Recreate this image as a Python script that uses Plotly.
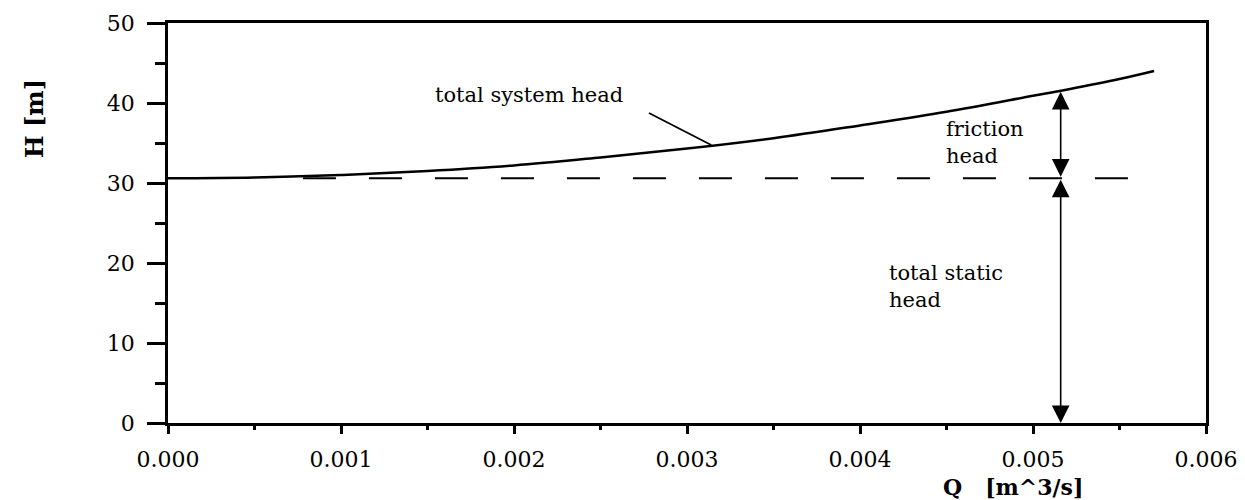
import plotly.graph_objects as go

# ---- data ----
q_system = [0.0, 0.0005, 0.001, 0.0015, 0.002, 0.0025, 0.003, 0.0035, 0.004, 0.0045, 0.005, 0.0052, 0.0055, 0.0057]
h_system = [30.6, 30.7, 31.0, 31.5, 32.2, 33.2, 34.3, 35.6, 37.2, 38.9, 40.9, 41.7, 43.0, 44.0]

q_static = [0.00078, 0.00566]
h_static = [30.6, 30.6]

q_arrow = 0.00516
h_friction_top = 41.4
h_static_level = 30.6
h_zero = 0.0

x_tick_vals = [0.0, 0.001, 0.002, 0.003, 0.004, 0.005, 0.006]
x_tick_text = ["0.000", "0.001", "0.002", "0.003", "0.004", "0.005", "0.006"]
y_tick_vals = [0, 10, 20, 30, 40, 50]
y_tick_text = ["0", "10", "20", "30", "40", "50"]

FONT = "DejaVu Serif"

fig = go.Figure()

fig.add_trace(go.Scatter(
    x=q_system, y=h_system, mode="lines",
    line=dict(color="black", width=2.5, shape="spline", smoothing=1.0),
    showlegend=False, hoverinfo="skip"))

fig.add_trace(go.Scatter(
    x=q_static, y=h_static, mode="lines",
    line=dict(color="black", width=2, dash="33px,33px"),
    showlegend=False, hoverinfo="skip"))

arrow_common = dict(
    xref="x", yref="y", axref="x", ayref="y", text="",
    showarrow=True, arrowside="end+start", arrowhead=2, startarrowhead=2,
    arrowsize=2.2, startarrowsize=2.2, arrowwidth=1.6, arrowcolor="black",
    standoff=0, startstandoff=0)

# friction head arrow
fig.add_annotation(x=q_arrow, y=h_friction_top, ax=q_arrow, ay=h_static_level, **arrow_common)
# total static head arrow
fig.add_annotation(x=q_arrow, y=h_zero, ax=q_arrow, ay=h_static_level, **arrow_common)

# leader line for "total system head"
fig.add_shape(type="line", xref="x", yref="y",
              x0=0.00278, y0=38.75, x1=0.00314, y1=34.75,
              line=dict(color="black", width=1.8))

lab_font = dict(family=FONT, size=21, color="black")
labels = [
    ("total system head", 0.001534, 41.0),
    ("friction<br>head", 0.004488, 35.1),
    ("total static<br>head", 0.004157, 17.1),
]
for txt, lx, ly in labels:
    fig.add_annotation(x=lx, y=ly, xref="x", yref="y", text=txt, align="left",
                       showarrow=False, xanchor="left", yanchor="middle", font=lab_font)

# axis titles
fig.add_annotation(x=-0.129, y=38.0, xref="paper", yref="y", text="<b>H [m]</b>",
                   textangle=-90, showarrow=False, xanchor="center", yanchor="middle",
                   font=dict(family=FONT, size=24, color="black"))
fig.add_annotation(x=0.00447, y=-0.16, xref="x", yref="paper", text="<b>Q   [m^3/s]</b>",
                   showarrow=False, xanchor="left", yanchor="middle",
                   font=dict(family=FONT, size=22, color="black"))

fig.update_xaxes(
    range=[0, 0.006], tickvals=x_tick_vals, ticktext=x_tick_text,
    ticks="outside", ticklen=8, tickwidth=2.5, tickcolor="black",
    minor=dict(dtick=0.0005, ticks="outside", ticklen=4, tickwidth=2.5, tickcolor="black", showgrid=False),
    showline=True, linecolor="black", linewidth=2.5, mirror=True,
    showgrid=False, zeroline=False, ticklabelstandoff=7, automargin=False,
    tickfont=dict(family=FONT, size=22, color="black"))
fig.update_yaxes(
    range=[0, 50], tickvals=y_tick_vals, ticktext=y_tick_text,
    ticks="outside", ticklen=18, tickwidth=2.5, tickcolor="black",
    minor=dict(dtick=5, ticks="outside", ticklen=10, tickwidth=2.5, tickcolor="black", showgrid=False),
    showline=True, linecolor="black", linewidth=2.5, mirror=True,
    showgrid=False, zeroline=False, ticklabelstandoff=8, automargin=False,
    tickfont=dict(family=FONT, size=22, color="black"))

# page body adds ~8px offset; compensate in margins
fig.update_layout(
    width=1245, height=500,
    margin=dict(l=160, r=47, t=15, b=85),
    plot_bgcolor="white", paper_bgcolor="white",
    showlegend=False)

fig.write_html("out.html")
